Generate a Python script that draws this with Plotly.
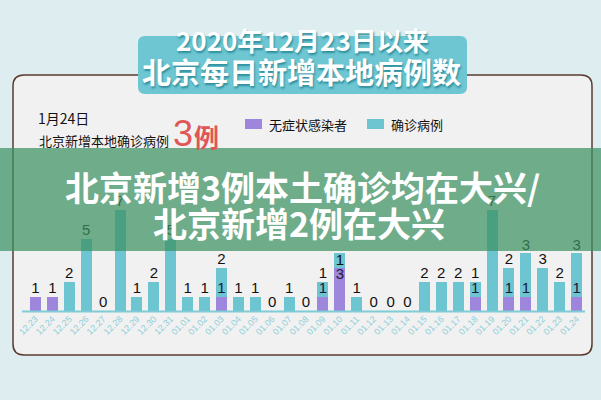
import plotly.graph_objects as go

# ---------------- data ----------------
dates = ["12.23", "12.24", "12.25", "12.26", "12.27", "12.28", "12.29", "12.30", "12.31",
         "01.01", "01.02", "01.03", "01.04", "01.05", "01.06", "01.07", "01.08", "01.09",
         "01.10", "01.11", "01.12", "01.13", "01.14", "01.15", "01.16", "01.17", "01.18",
         "01.19", "01.20", "01.21", "01.22", "01.23", "01.24"]
confirmed = [0, 0, 2, 5, 0, 7, 1, 2, 5,
             1, 1, 2, 1, 1, 0, 1, 0, 1,
             1, 1, 0, 0, 0, 2, 2, 2, 1,
             7, 2, 3, 3, 2, 3]
asymptomatic = [1, 1, 0, 0, 0, 0, 0, 0, 0,
                0, 0, 1, 0, 0, 0, 0, 0, 1,
                3, 0, 0, 0, 0, 0, 0, 0, 1,
                0, 1, 1, 0, 0, 1]

title_line1 = "2020年12月23日以来"
title_line2 = "北京每日新增本地病例数"
date_note = "1月24日"
note_text = "北京新增本地确诊病例"
note_num = "3"
legend_names = ["无症状感染者", "确诊病例"]
headline1 = "北京新增3例本土确诊均在大兴/"
headline2 = "北京新增2例在大兴"

# ---------------- style ----------------
TEAL = "#6cc5d1"
PURPLE = "#9e86dc"
CJK = "Noto Sans CJK SC"
W_IMG, H_IMG = 601, 400
ML, MR, MT, MB = 27, 16, 170, 89
PW = W_IMG - ML - MR
PH = H_IMG - MT - MB
BASE = H_IMG - MB


def px(x):
    return (x - ML) / PW


def py(y):
    return (BASE - y) / PH


def rrect(x0, y0, x1, y1, r):
    pts = [f"M{px(x0 + r)},{py(y0)}",
           f"L{px(x1 - r)},{py(y0)}",
           f"Q{px(x1)},{py(y0)} {px(x1)},{py(y0 + r)}",
           f"L{px(x1)},{py(y1 - r)}",
           f"Q{px(x1)},{py(y1)} {px(x1 - r)},{py(y1)}",
           f"L{px(x0 + r)},{py(y1)}",
           f"Q{px(x0)},{py(y1)} {px(x0)},{py(y1 - r)}",
           f"L{px(x0)},{py(y0 + r)}",
           f"Q{px(x0)},{py(y0)} {px(x0 + r)},{py(y0)}"]
    return " ".join(pts) + " Z"


totals = [c + a for c, a in zip(confirmed, asymptomatic)]
top_text = [str(c) if c > 0 else str(a) for c, a in zip(confirmed, asymptomatic)]
top_pos = ["bottom center" if (a > c and c > 0) else "top center"
           for c, a in zip(confirmed, asymptomatic)]
in_text = [str(a) if (a > 0 and c > 0) else "" for c, a in zip(confirmed, asymptomatic)]
in_pos = ["bottom center" if a > 1 else "top center" for a in asymptomatic]

fig = go.Figure()
fig.add_trace(go.Bar(x=dates, y=asymptomatic, marker=dict(color=PURPLE, line=dict(width=0)),
                     name=legend_names[0], hoverinfo="skip"))
fig.add_trace(go.Bar(x=dates, y=confirmed, marker=dict(color=TEAL, line=dict(width=0)),
                     name=legend_names[1], hoverinfo="skip"))
fig.add_trace(go.Scatter(x=dates, y=totals, mode="text", text=top_text, textposition=top_pos,
                         textfont=dict(family="Liberation Sans, Arial", size=15, color="#111111"),
                         cliponaxis=False, hoverinfo="skip"))
fig.add_trace(go.Scatter(x=dates, y=asymptomatic, mode="text", text=in_text, textposition=in_pos,
                         textfont=dict(family="Liberation Sans, Arial", size=15, color="#1a1838"),
                         cliponaxis=False, hoverinfo="skip"))

shapes = [
    dict(type="path", xref="paper", yref="paper", path=rrect(13, 75, 592, 355, 11),
         fillcolor="#f1f1f1", line=dict(color="#5a3b2f", width=1.5), layer="below"),
    dict(type="path", xref="paper", yref="paper", path=rrect(138, 36, 467, 94, 7),
         fillcolor="#6dc6d2", line=dict(width=0), layer="below"),
    dict(type="line", xref="paper", yref="paper", x0=px(22), x1=px(585), y0=py(311.5), y1=py(311.5),
         line=dict(color="#7fcbd6", width=2), layer="above"),
    dict(type="rect", xref="paper", yref="paper", x0=px(245), x1=px(262), y0=py(119), y1=py(129),
         fillcolor=PURPLE, line=dict(width=0)),
    dict(type="rect", xref="paper", yref="paper", x0=px(367), x1=px(384), y0=py(119), y1=py(129),
         fillcolor=TEAL, line=dict(width=0)),
    dict(type="rect", xref="paper", yref="paper", x0=px(0), x1=px(601), y0=py(148), y1=py(251),
         fillcolor="rgba(60,145,98,0.72)", line=dict(width=0), layer="above"),
]

ann = []


def add_text(t, x, y, size, color, xanchor="center", weight=None, shadow=None, family=CJK):
    f = dict(family=family, size=size, color=color)
    if weight:
        f["weight"] = weight
    if shadow:
        f["shadow"] = shadow
    ann.append(dict(text=t, x=px(x), y=py(y), xref="paper", yref="paper", showarrow=False,
                    xanchor=xanchor, yanchor="middle", font=f))


add_text(title_line1, 302, 39, 26, "white", weight=700, shadow="1px 2px 2px #2f8f9c")
add_text(title_line2, 301, 71, 29, "white", weight=700, shadow="1px 2px 2px #2f8f9c")
add_text(date_note, 36, 118, 14, "#111111", xanchor="left")
add_text(note_text, 37, 140, 13, "#111111", xanchor="left")
add_text(note_num, 171, 133, 36, "#e05656", xanchor="left", family="Liberation Sans, Arial")
add_text("例", 192, 136, 25, "#e05656", xanchor="left", weight=700)
add_text(legend_names[0], 267, 124, 13, "#111111", xanchor="left")
add_text(legend_names[1], 389, 124, 13, "#111111", xanchor="left")
add_text(headline1, 302, 186, 34, "white", weight=700)
add_text(headline2, 299, 222, 34, "white", weight=700)

fig.update_layout(
    width=W_IMG, height=H_IMG,
    margin=dict(l=ML, r=MR, t=MT, b=MB, pad=0),
    paper_bgcolor="#deedf0", plot_bgcolor="rgba(0,0,0,0)",
    barmode="stack", bargap=0.35, showlegend=False,
    shapes=shapes, annotations=ann,
    xaxis=dict(type="category", range=[-0.5, len(dates) - 0.5], showgrid=False, zeroline=False,
               showline=False, ticks="", tickangle=-45,
               tickfont=dict(family="Liberation Sans, Arial", size=9, color="#8ed0d9")),
    yaxis=dict(range=[0, PH / 14.4], showgrid=False, zeroline=False, showticklabels=False,
               showline=False, ticks=""),
)

fig.write_html("out.html", config={"displayModeBar": False},
               post_script="document.body.style.margin='0';document.body.style.overflow='hidden';")
